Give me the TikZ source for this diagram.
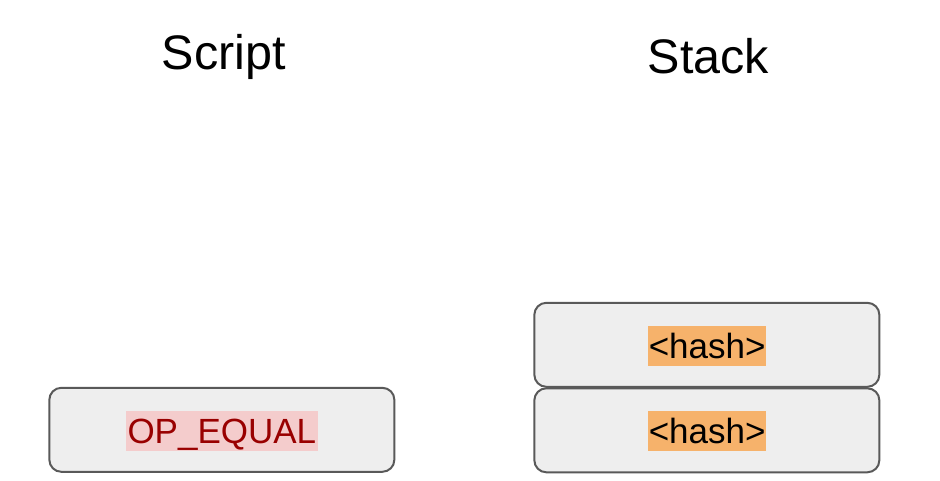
\documentclass[tikz,border=0pt]{standalone}
\usepackage{fontspec}
\setmainfont{Liberation Sans}
\definecolor{boxfill}{HTML}{EEEEEE}
\definecolor{boxline}{HTML}{595959}
\definecolor{pinkhl}{HTML}{F4CCCC}
\definecolor{darkred}{HTML}{990000}
\definecolor{orangehl}{HTML}{F6B26B}
\begin{document}
\begin{tikzpicture}[x=1pt,y=-1pt,
  cell/.style={draw=boxline,line width=2pt,fill=boxfill,rounded corners=12pt,
    minimum width=345pt,minimum height=84pt,inner sep=0pt},
  hl/.style={inner sep=0pt,minimum height=39.7pt,text height=25.06pt,text depth=0pt,
    font=\fontsize{35}{42}\selectfont},
  title/.style={anchor=base,inner sep=0pt,font=\fontsize{48.5}{58}\selectfont}]
\useasboundingbox (0,0) rectangle (940,481);
\node[title] (scripttitle) at (223.7,70) {Script};
\node[title] (stacktitle) at (708.3,73.3) {Stack};
\node[cell] (opbox) at (221.85,429.8) {};
\node[cell] (stacktop) at (706.85,344.8) {};
\node[cell] (stackbot) at (706.85,430.3) {};
\node[hl,fill=pinkhl,text=darkred,minimum width=191.7pt] (optext) at (221.85,430.85) {OP\_EQUAL};
\node[hl,fill=orangehl,text=black,minimum width=117.7pt] (hashtop) at (707.15,345.85) {<hash>};
\node[hl,fill=orangehl,text=black,minimum width=117.7pt] (hashbot) at (707.15,430.85) {<hash>};
\end{tikzpicture}
\end{document}
